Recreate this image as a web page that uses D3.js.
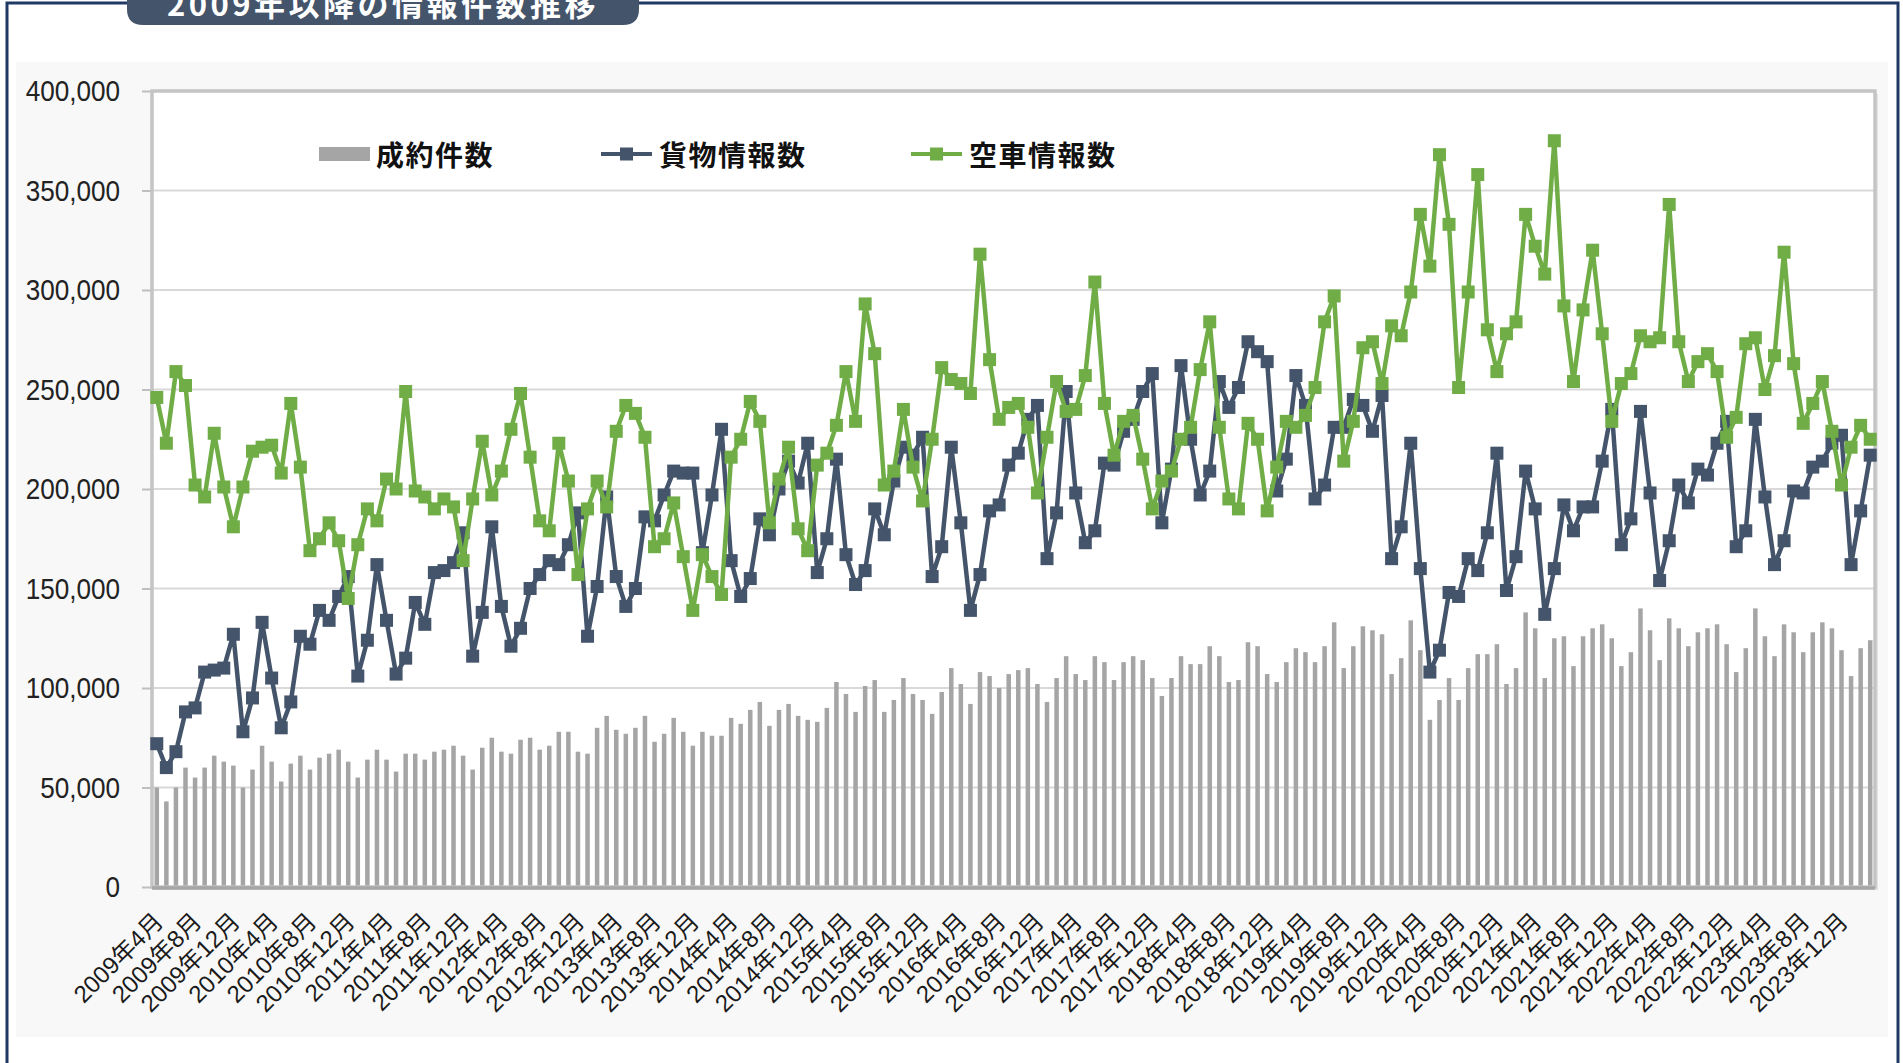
<!DOCTYPE html>
<html>
<head>
<meta charset="utf-8">
<style>
  body { margin: 0; background: #ffffff; }
  svg { display: block; }
  .ylab { font-family: "Liberation Sans", Arial, sans-serif; font-size: 30px; fill: #222; }
  .xlab { font-family: "Liberation Sans", "Noto Sans CJK JP", sans-serif; font-size: 24px; fill: #1a1a1a; }
  .legend { font-family: "Noto Sans CJK JP", sans-serif; font-size: 28px; font-weight: bold; fill: #111; letter-spacing: 1.5px; }
  .title { font-family: "Noto Sans CJK JP", sans-serif; font-size: 31px; font-weight: bold; fill: #ffffff; letter-spacing: 3.5px; }
</style>
</head>
<body>
<script src="https://d3js.org/d3.v7.min.js"></script>
<div id="chart"></div>
<script>
// 2009年4月 .. 2024年3月, monthly (values in thousands)
var startYear = 2009, startMonth = 4, nMonths = 180;

var seiyaku = [ // 成約件数
  50,43,50,60,55,60,66,63,61,50,59,71,63,53,62,66,59,65,67,69,63,55,64,69,64,58,67,67,64,68,
  69,71,66,59,70,75,68,67,74,75,69,71,78,78,68,67,80,86,79,77,80,86,73,77,85,78,71,78,76,76,
  85,82,89,93,81,89,92,86,84,83,90,103,97,88,101,104,88,94,105,97,94,87,98,110,102,92,108,106,100,107,
  109,110,102,93,105,116,107,104,116,113,104,113,116,114,105,96,105,116,112,112,121,116,103,104,123,121,107,103,113,120,
  118,113,121,133,110,121,131,129,127,107,115,134,119,84,94,105,94,110,117,117,122,102,110,138,130,105,125,126,111,126,
  130,132,125,111,118,140,129,114,135,130,121,128,130,132,122,108,120,140,126,116,132,128,118,128,133,130,119,106,120,124
];

var kamotsu = [ // 貨物情報数
  72,60,68,88,90,108,109,110,127,78,95,133,105,80,93,126,122,139,134,146,156,106,124,162,134,107,115,143,132,158,
  159,163,178,116,138,181,141,121,130,150,157,164,162,172,188,126,151,196,156,141,150,186,184,197,209,208,208,168,197,230,
  164,146,155,185,177,200,214,203,223,158,175,215,167,152,159,190,177,204,221,217,226,156,171,221,183,139,157,189,192,212,
  218,235,242,165,188,249,198,173,179,213,212,229,235,249,258,183,210,262,225,197,209,254,241,251,274,269,264,199,215,257,
  242,195,202,231,231,245,242,229,247,165,181,223,160,108,119,148,146,165,159,178,218,149,166,209,190,137,160,192,179,191,
  191,214,240,172,185,239,198,154,174,202,193,210,207,223,234,171,179,235,196,162,174,199,198,211,214,223,227,162,189,217
];

var kuusha = [ // 空車情報数
  246,223,259,252,202,196,228,201,181,201,219,221,222,208,243,211,169,175,183,174,145,172,190,184,205,200,249,199,196,190,
  195,191,164,195,224,197,209,230,248,216,184,179,223,204,157,190,204,191,229,242,238,226,171,175,193,166,139,167,156,147,
  216,225,244,234,183,205,221,180,169,212,218,232,259,234,293,268,202,209,240,211,194,225,261,255,253,248,318,265,235,241,
  243,231,198,226,254,239,240,257,304,243,217,234,237,215,190,204,209,225,231,260,284,231,195,190,233,225,189,211,234,231,
  237,251,284,297,214,234,271,274,253,282,277,299,338,312,368,333,251,299,358,280,259,278,284,338,322,308,375,292,254,290,
  320,278,234,253,258,277,274,276,343,274,254,264,268,259,226,236,273,276,250,267,319,263,233,243,254,229,202,221,232,225
];

var yTicks = [0, 50000, 100000, 150000, 200000, 250000, 300000, 350000, 400000];

var tickLabels = [
  "2009年4月","2009年8月","2009年12月","2010年4月","2010年8月","2010年12月",
  "2011年4月","2011年8月","2011年12月","2012年4月","2012年8月","2012年12月",
  "2013年4月","2013年8月","2013年12月","2014年4月","2014年8月","2014年12月",
  "2015年4月","2015年8月","2015年12月","2016年4月","2016年8月","2016年12月",
  "2017年4月","2017年8月","2017年12月","2018年4月","2018年8月","2018年12月",
  "2019年4月","2019年8月","2019年12月","2020年4月","2020年8月","2020年12月",
  "2021年4月","2021年8月","2021年12月","2022年4月","2022年8月","2022年12月",
  "2023年4月","2023年8月","2023年12月"
];

var months = [];
for (var i = 0; i < nMonths; i++) {
  var m = startMonth - 1 + i;
  months.push((startYear + Math.floor(m / 12)) + "年" + (m % 12 + 1) + "月");
}

var W = 1903, H = 1063;
var plot = { left: 152, right: 1875, top: 91, bottom: 887 };

var svg = d3.select("#chart").append("svg")
  .attr("width", W).attr("height", H);

// chart area background
svg.append("rect").attr("x", 16).attr("y", 62).attr("width", 1872).attr("height", 975)
  .attr("fill", "#f8f8f8");

var x = d3.scaleBand()
  .domain(months)
  .range([plot.left, plot.right])
  .paddingInner(0.53)
  .paddingOuter(0.265);

var y = d3.scaleLinear()
  .domain([0, 400000])
  .range([plot.bottom, plot.top]);

var cx = function(d, i) { return x(months[i]) + x.bandwidth() / 2; };

// plot area
svg.append("rect").attr("x", plot.left + 3).attr("y", plot.top + 3)
  .attr("width", plot.right - plot.left).attr("height", plot.bottom - plot.top)
  .attr("fill", "#e4e4e4");
svg.append("rect").attr("x", plot.left).attr("y", plot.top)
  .attr("width", plot.right - plot.left).attr("height", plot.bottom - plot.top)
  .attr("fill", "#ffffff");

// gridlines
svg.append("g").selectAll("line").data(yTicks.slice(1, -1)).enter().append("line")
  .attr("x1", plot.left).attr("x2", plot.right)
  .attr("y1", function(d) { return y(d); }).attr("y2", function(d) { return y(d); })
  .attr("stroke", "#d9d9d9").attr("stroke-width", 2);

// y axis
var yAxis = svg.append("g")
  .attr("transform", "translate(" + plot.left + ",0)")
  .call(d3.axisLeft(y).tickValues(yTicks).tickSize(10).tickPadding(22)
    .tickFormat(d3.format(",")));
yAxis.select(".domain").remove();
yAxis.selectAll(".tick line").attr("stroke", "#bfbfbf").attr("stroke-width", 2);
yAxis.selectAll(".tick text").attr("class", "ylab").attr("font-family", null).attr("font-size", null)
  .each(function() {
    var w = this.getComputedTextLength();
    d3.select(this).attr("textLength", w * 0.87).attr("lengthAdjust", "spacingAndGlyphs");
  });

// bars
svg.append("g").selectAll("rect").data(seiyaku).enter().append("rect")
  .attr("x", function(d, i) { return x(months[i]); })
  .attr("y", function(d) { return y(d * 1000); })
  .attr("width", x.bandwidth())
  .attr("height", function(d) { return plot.bottom - y(d * 1000); })
  .attr("fill", "#a5a5a5");

// frame
svg.append("rect").attr("x", plot.left).attr("y", plot.top)
  .attr("width", plot.right - plot.left).attr("height", plot.bottom - plot.top)
  .attr("fill", "none").attr("stroke", "#c4c4c4").attr("stroke-width", 3.5);
svg.append("line").attr("x1", plot.left).attr("x2", plot.right)
  .attr("y1", plot.bottom + 1).attr("y2", plot.bottom + 1)
  .attr("stroke", "#a6a6a6").attr("stroke-width", 3.5);

// lines
function drawSeries(vals, color) {
  var line = d3.line()
    .x(function(d, i) { return cx(d, i); })
    .y(function(d) { return y(d * 1000); });
  svg.append("path").datum(vals)
    .attr("d", line).attr("fill", "none")
    .attr("stroke", color).attr("stroke-width", 4.5).attr("stroke-linejoin", "round");
  svg.append("g").selectAll("rect").data(vals).enter().append("rect")
    .attr("x", function(d, i) { return cx(d, i) - 6.5; })
    .attr("y", function(d) { return y(d * 1000) - 6.5; })
    .attr("width", 13).attr("height", 13)
    .attr("fill", color);
}
drawSeries(kamotsu, "#44546a");
drawSeries(kuusha, "#70ad47");

// x labels
var labelIdx = d3.range(0, tickLabels.length);
svg.append("g").selectAll("text").data(labelIdx).enter().append("text")
  .attr("class", "xlab")
  .attr("text-anchor", "end")
  .attr("transform", function(k) {
    var xc = x(months[k * 4]) + x.bandwidth() / 2 + 8;
    return "translate(" + xc + "," + (plot.bottom + 36) + ") rotate(-45)";
  })
  .text(function(k) { return tickLabels[k]; });

// legend
var lg = svg.append("g");
lg.append("rect").attr("x", 319).attr("y", 147).attr("width", 51).attr("height", 14).attr("fill", "#a5a5a5");
lg.append("text").attr("class", "legend").attr("x", 376).attr("y", 154).attr("dominant-baseline", "central").text("成約件数");
var legendLines = [
  { x0: 601, color: "#44546a", label: "貨物情報数" },
  { x0: 911, color: "#70ad47", label: "空車情報数" }
];
legendLines.forEach(function(l) {
  lg.append("line").attr("x1", l.x0).attr("x2", l.x0 + 51).attr("y1", 154).attr("y2", 154)
    .attr("stroke", l.color).attr("stroke-width", 4);
  lg.append("rect").attr("x", l.x0 + 19).attr("y", 147.5).attr("width", 13).attr("height", 13).attr("fill", l.color);
  lg.append("text").attr("class", "legend").attr("x", l.x0 + 58).attr("y", 154)
    .attr("dominant-baseline", "central").text(l.label);
});

// outer border
svg.append("rect").attr("x", 7).attr("y", 3).attr("width", 1891).attr("height", 1100)
  .attr("fill", "none").attr("stroke", "#1f3864").attr("stroke-width", 3);

// title tab
var tx0 = 127, tx1 = 639, ty = 25, r = 16;
svg.append("path")
  .attr("d", "M" + tx0 + ",-5 L" + tx0 + "," + (ty - r) + " Q" + tx0 + "," + ty + " " + (tx0 + r) + "," + ty +
    " L" + (tx1 - r) + "," + ty + " Q" + tx1 + "," + ty + " " + tx1 + "," + (ty - r) + " L" + tx1 + ",-5 Z")
  .attr("fill", "#44546a");
svg.append("text").attr("class", "title").attr("x", (tx0 + tx1) / 2).attr("y", 16)
  .attr("text-anchor", "middle").text("2009年以降の情報件数推移");
</script>
</body>
</html>
